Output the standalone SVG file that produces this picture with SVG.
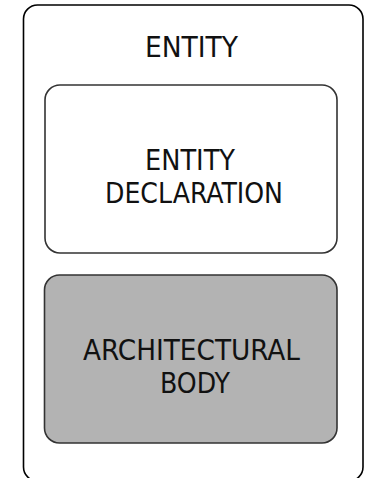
<svg xmlns="http://www.w3.org/2000/svg" width="365" height="478" viewBox="0 0 365 478">
<style>
.box{stroke:#333;stroke-width:1.6}
.t{font-family:"DejaVu Sans Condensed","DejaVu Sans",Tahoma,sans-serif;font-stretch:condensed;font-size:27.5px;fill:#111}
</style>
<rect x="0" y="0" width="365" height="478" fill="#ffffff"/>
<g id="entity">
<rect x="23.5" y="5" width="339.5" height="476" rx="14" fill="#ffffff" stroke="#000" stroke-width="1.6"/>
<text class="t" x="145" y="57" textLength="93" lengthAdjust="spacingAndGlyphs">ENTITY</text>
</g>
<g id="entity-declaration">
<rect class="box" x="45" y="85" width="292" height="168" rx="15" fill="#ffffff"/>
<text class="t" x="145" y="170" textLength="90" lengthAdjust="spacingAndGlyphs">ENTITY</text>
<text class="t" x="105" y="203" textLength="178" lengthAdjust="spacingAndGlyphs">DECLARATION</text>
</g>
<g id="architectural-body">
<rect class="box" x="44.5" y="275" width="292.5" height="168" rx="15" fill="#b3b3b3"/>
<text class="t" x="83" y="360" textLength="217" lengthAdjust="spacingAndGlyphs">ARCHITECTURAL</text>
<text class="t" x="160" y="393" textLength="70" lengthAdjust="spacingAndGlyphs">BODY</text>
</g>
<g id="connectors"></g>
</svg>
